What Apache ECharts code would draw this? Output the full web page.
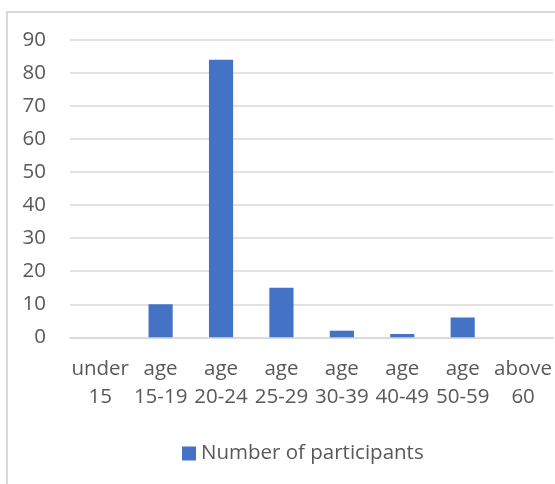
<!DOCTYPE html>
<html>
<head>
<meta charset="utf-8">
<style>
  html, body { margin: 0; padding: 0; background: #fff; }
  #chart { width: 555px; height: 484px; }
</style>
<script src="https://cdn.jsdelivr.net/npm/echarts@6/dist/echarts.min.js"></script>
</head>
<body>
<div id="chart"></div>
<script>
// Age groups of the participants and how many fall in each
const categories = ['under 15', 'age 15-19', 'age 20-24', 'age 25-29', 'age 30-39', 'age 40-49', 'age 50-59', 'above 60'];
const participants = [0, 10, 84, 15, 2, 1, 6, 0];
const seriesName = 'Number of participants';
const yTicks = [0, 10, 20, 30, 40, 50, 60, 70, 80, 90];

const textColor = '#595959';
const fontFamily = '"Open Sans", "Noto Sans", sans-serif';
const fontSize = 20.5;

const chart = echarts.init(document.getElementById('chart'), null, { renderer: 'canvas' });

chart.setOption({
  animation: false,
  backgroundColor: '#ffffff',
  graphic: [{
    type: 'rect',
    shape: { x: 7, y: 12, width: 600, height: 520 },
    style: { fill: 'none', stroke: '#d9d9d9', lineWidth: 2 },
    silent: true,
    z: -1
  }],
  grid: { left: 70, right: 0, top: 40, bottom: 146.7, containLabel: false },
  legend: {
    data: [seriesName],
    top: 438,
    left: 177,
    itemWidth: 14,
    itemHeight: 14,
    itemGap: 6,
    icon: 'rect',
    textStyle: { color: textColor, fontSize: fontSize, fontFamily: fontFamily }
  },
  xAxis: {
    type: 'category',
    data: categories,
    axisLine: { show: true, lineStyle: { color: '#d9d9d9', width: 1.5 } },
    axisTick: { show: false },
    axisLabel: {
      color: textColor,
      fontSize: fontSize,
      fontFamily: fontFamily,
      lineHeight: 28,
      margin: 18,
      interval: 0,
      formatter: v => v.replace(' ', '\n')
    }
  },
  yAxis: {
    type: 'value',
    min: yTicks[0],
    max: yTicks[yTicks.length - 1],
    interval: 10,
    axisLine: { show: false },
    axisTick: { show: false },
    splitLine: { lineStyle: { color: '#d9d9d9', width: 1.5 } },
    axisLabel: {
      color: textColor,
      fontSize: fontSize,
      fontFamily: fontFamily,
      margin: 24
    }
  },
  series: [{
    name: seriesName,
    type: 'bar',
    data: participants,
    barWidth: '40%',
    itemStyle: { color: '#4472C4' }
  }]
});
</script>
</body>
</html>
